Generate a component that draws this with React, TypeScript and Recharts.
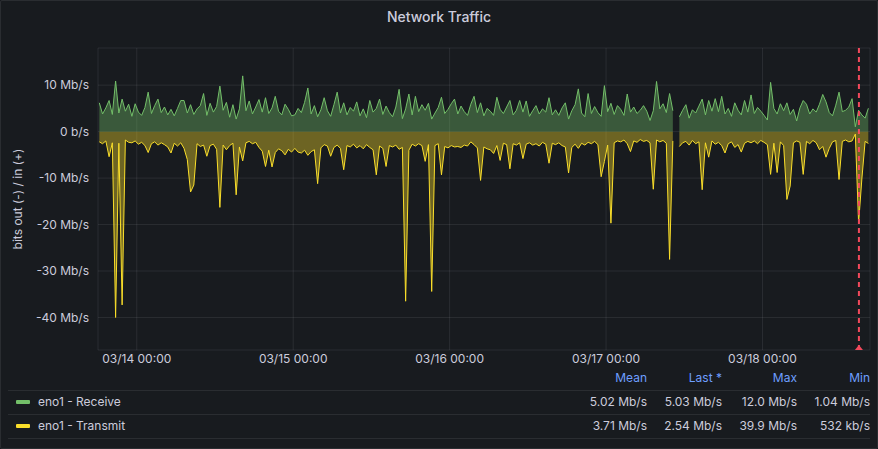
import React from 'react'
import {
  ComposedChart,
  Area,
  XAxis,
  YAxis,
  CartesianGrid,
  ReferenceLine
} from 'recharts'

// samples every 30 min, first one at 03/13 18:15 (hours relative to 03/14 00:00)
const START_HOUR = -5.75
const STEP_HOURS = 0.5

// eno1 - Receive, Mb/s
const receive = [
  6.2, 3.8, 5.1, 6.7, 3.7, 10.9, 4.0, 7.0, 4.4, 5.9,
  3.3, 6.0, 4.2, 3.5, 5.2, 8.5, 3.9, 5.6, 7.0, 4.1,
  5.3, 3.6, 4.8, 3.4, 5.0, 6.7, 6.7, 4.0, 5.8, 3.7,
  4.9, 5.6, 8.2, 3.5, 6.1, 4.2, 5.4, 9.8, 4.6, 6.3,
  3.1, 5.8, 2.7, 4.9, 12.0, 4.5, 6.6, 3.8, 5.3, 6.9,
  4.2, 7.3, 3.9, 5.1, 7.6, 4.4, 3.6, 5.9, 4.8, 3.4,
  3.6, 5.0, 4.1, 6.3, 9.4, 3.8, 5.6, 3.2, 4.7, 7.3,
  4.5, 3.3, 5.8, 8.5, 4.0, 6.2, 3.6, 5.2, 4.4, 6.4,
  3.4, 4.9, 3.0, 6.7, 4.2, 5.0, 7.0, 3.7, 5.5, 4.1,
  3.2, 5.3, 9.1, 2.8, 4.9, 8.1, 3.6, 7.6, 4.3, 5.8,
  4.6, 6.1, 2.7, 4.0, 5.2, 7.4, 3.9, 4.8, 6.0, 7.0,
  3.8, 5.5, 4.3, 3.5, 5.9, 7.6, 4.1, 6.2, 3.4, 5.0,
  4.4, 3.5, 7.4, 4.8, 3.9, 5.3, 6.7, 3.6, 4.6, 6.7,
  4.2, 6.6, 3.3, 4.5, 5.6, 3.8, 4.9, 4.2, 7.3, 3.6,
  4.7, 3.5, 5.1, 6.2, 2.7, 4.5, 5.8, 9.2, 4.0, 3.2,
  8.2, 3.9, 5.4, 4.1, 3.3, 9.9, 4.3, 6.1, 3.7, 5.6,
  4.8, 3.5, 8.1, 4.2, 5.3, 3.9, 4.6, 5.6, 4.4, 2.4,
  4.5, 10.8, 4.9, 6.0, 4.1, 8.2, 4.5, null, 3.2, 4.6,
  5.8, 2.9, 4.7, 4.0, 5.5, 7.0, 3.6, 6.7, 4.4, 7.1,
  4.3, 7.6, 3.8, 5.0, 3.3, 6.2, 4.6, 3.6, 6.7, 4.2,
  7.9, 3.9, 5.2, 4.4, 3.5, 2.5, 10.6, 5.0, 3.8, 6.0,
  4.5, 6.2, 3.7, 4.8, 2.3, 5.1, 6.7, 5.9, 3.8, 4.9,
  4.2, 5.9, 8.0, 6.4, 4.1, 3.4, 5.7, 8.5, 4.3, 4.6,
  5.3, 7.1, 1.04, 4.6, 3.6, 2.9, 5.03
]

// eno1 - Transmit, Mb/s (drawn negative: bits out)
const transmit = [
  -2.2, -2.6, -2.0, -5.4, -2.4, -40.0, -2.5, -37.3, -1.8, -2.3,
  -2.4, -2.0, -2.7, -2.3, -3.0, -4.5, -2.6, -2.2, -2.9, -2.4,
  -2.8, -3.3, -4.6, -2.5, -3.1, -2.4, -3.6, -6.0, -13.0, -11.5,
  -2.6, -3.2, -2.9, -5.3, -3.0, -2.7, -3.8, -16.3, -2.9, -3.9,
  -3.0, -2.5, -13.6, -3.3, -6.3, -2.4, -2.1, -2.6, -2.3, -3.4,
  -4.2, -7.5, -4.0, -7.6, -4.5, -3.7, -4.1, -5.0, -3.8, -4.4,
  -3.6, -4.4, -4.6, -4.0, -5.1, -4.3, -3.9, -11.2, -3.5, -2.8,
  -3.1, -5.3, -3.4, -2.9, -3.6, -8.2, -3.0, -3.3, -2.7, -3.5,
  -3.0, -3.7, -2.8, -3.4, -3.9, -9.3, -3.1, -3.6, -7.5, -3.0,
  -3.3, -2.9, -3.8, -3.4, -36.5, -4.0, -2.7, -3.1, -2.6, -3.0,
  -6.4, -2.8, -34.4, -3.0, -2.6, -9.3, -3.2, -3.5, -3.0, -3.3,
  -3.2, -3.4, -2.9, -3.1, -2.2, -2.8, -3.5, -10.5, -3.3, -3.7,
  -3.9, -4.7, -3.0, -6.2, -2.5, -2.8, -8.0, -2.6, -2.9, -2.4,
  -5.8, -2.7, -2.4, -2.9, -2.6, -3.1, -2.3, -2.7, -6.8, -2.5,
  -2.8, -2.4, -3.0, -3.3, -8.9, -3.4, -2.7, -3.6, -2.5, -2.9,
  -2.3, -2.6, -2.1, -2.8, -9.7, -6.4, -2.9, -19.7, -2.4, -2.0,
  -2.2, -1.8, -2.6, -4.3, -2.0, -2.3, -1.7, -2.1, -1.9, -2.4,
  -12.4, -1.8, -2.2, -1.9, -2.5, -27.5, -2.0, null, -3.2, -2.4,
  -2.1, -2.9, -1.9, -2.6, -2.2, -12.5, -2.4, -5.5, -2.0, -2.7,
  -2.3, -3.0, -4.6, -2.6, -2.2, -3.4, -2.8, -4.4, -2.5, -2.1,
  -2.4, -2.0, -2.6, -1.9, -2.3, -2.8, -9.2, -2.5, -8.8, -2.2,
  -3.0, -14.6, -11.7, -2.4, -2.0, -2.3, -9.2, -2.1, -2.6, -1.9,
  -2.4, -3.9, -3.2, -5.5, -3.6, -2.2, -1.9, -10.3, -2.1, -1.8,
  -2.2, -2.0, -0.53, -19.7, -10.2, -2.1, -2.54
]

const dayTicks = [0, 24, 48, 72, 96]
const dayLabels = ['03/14 00:00', '03/15 00:00', '03/16 00:00', '03/17 00:00', '03/18 00:00']
const yTicks = [-40, -30, -20, -10, 0, 10]
const annotationHour = 110.8

const statHeaders = ['Mean', 'Last *', 'Max', 'Min']
const receiveStats = ['5.02 Mb/s', '5.03 Mb/s', '12.0 Mb/s', '1.04 Mb/s']
const transmitStats = ['3.71 Mb/s', '2.54 Mb/s', '39.9 Mb/s', '532 kb/s']

const GREEN = '#73bf69'
const YELLOW = '#fade2a'
const RED = '#f2495c'
const TEXT = '#ccccdc'
const BLUE = '#6e9fff'

const data = receive.map((rx, i) => ({
  t: START_HOUR + i * STEP_HOURS,
  rx,
  tx: transmit[i]
}))

const formatY = (v: number) => (v === 0 ? '0 b/s' : `${v} Mb/s`)
const formatX = (v: number) => dayLabels[dayTicks.indexOf(v)] ?? ''

function AnnotationMarker(props: any) {
  const vb = props.viewBox || {}
  const x = vb.x
  const y = vb.y + vb.height
  return <path d={`M${x - 4},${y} L${x + 4},${y} L${x},${y - 5} Z`} fill={RED} />
}

// right edges of the legend stat columns
const statCols = [647, 722, 797, 870]

function LegendRow({ color, name, stats, top }: { color: string; name: string; stats: string[]; top: number }) {
  return (
    <div style={{ position: 'absolute', left: 0, top, width: 878, height: 24 }}>
      <div style={{ position: 'absolute', left: 16, top: 10, width: 14, height: 4, borderRadius: 1, background: color }} />
      <div style={{ position: 'absolute', left: 38, top: 4, fontSize: 12, color: TEXT }}>{name}</div>
      {stats.map((s, i) => (
        <div key={i} style={{ position: 'absolute', right: 878 - statCols[i], top: 4, fontSize: 12, color: TEXT, whiteSpace: 'nowrap' }}>
          {s}
        </div>
      ))}
    </div>
  )
}

export default function App() {
  return (
    <div style={{ position: 'absolute', left: 0, top: 0, width: 878, height: 449, background: '#181b1f', fontFamily: 'Inter, "Noto Sans", sans-serif', overflow: 'hidden' }}>
      <div
        style={{
          position: 'absolute',
          inset: 0,
          border: '1px solid rgba(204,204,220,0.1)',
          borderRadius: 2,
          pointerEvents: 'none'
        }}
      />
      <div style={{ position: 'absolute', left: 0, top: 8, width: 878, textAlign: 'center', fontSize: 14, fontWeight: 500, color: TEXT }}>
        Network Traffic
      </div>
      <div
        style={{
          position: 'absolute',
          left: 17,
          top: 199,
          transform: 'translate(-50%, -50%) rotate(-90deg)',
          whiteSpace: 'nowrap',
          fontSize: 12,
          color: TEXT
        }}
      >
        bits out (-) / in (+)
      </div>
      <div style={{ position: 'absolute', left: 0, top: 0 }}>
        <ComposedChart width={878} height={374} data={data} margin={{ top: 48, right: 8, bottom: 0, left: 0 }}>
          <CartesianGrid stroke="rgba(204,204,220,0.1)" />
          <XAxis
            dataKey="t"
            type="number"
            domain={[-5.95, 112.5]}
            ticks={dayTicks}
            tickFormatter={formatX}
            allowDataOverflow
            axisLine={false}
            tickLine={false}
            tickSize={0}
            tickMargin={4}
            height={24}
            tick={{ fill: TEXT, fontSize: 12 }}
          />
          <YAxis
            type="number"
            domain={[-47, 18]}
            ticks={yTicks}
            tickFormatter={formatY}
            allowDataOverflow
            axisLine={false}
            tickLine={false}
            tickSize={0}
            tickMargin={9}
            width={98}
            tick={{ fill: TEXT, fontSize: 12 }}
          />
          <Area
            type="linear"
            dataKey="rx"
            stroke={GREEN}
            strokeWidth={1}
            fill={GREEN}
            fillOpacity={0.38}
            baseValue={0}
            isAnimationActive={false}
            dot={false}
            activeDot={false}
          />
          <Area
            type="linear"
            dataKey="tx"
            stroke={YELLOW}
            strokeWidth={1}
            fill={YELLOW}
            fillOpacity={0.38}
            baseValue={0}
            isAnimationActive={false}
            dot={false}
            activeDot={false}
          />
          <ReferenceLine
            x={annotationHour}
            stroke={RED}
            strokeWidth={2}
            strokeDasharray="5 4"
            label={AnnotationMarker}
          />
        </ComposedChart>
      </div>
      <div style={{ position: 'absolute', left: 0, top: 370, width: 878, height: 16 }}>
        {statHeaders.map((h, i) => (
          <div key={h} style={{ position: 'absolute', right: 878 - statCols[i], top: 0, fontSize: 12, color: BLUE, whiteSpace: 'nowrap' }}>
            {h}
          </div>
        ))}
      </div>
      {[390, 414, 438].map((y) => (
        <div key={y} style={{ position: 'absolute', left: 8, top: y, width: 862, height: 1, background: 'rgba(204,204,220,0.1)' }} />
      ))}
      <LegendRow color={GREEN} name="eno1 - Receive" stats={receiveStats} top={390} />
      <LegendRow color={YELLOW} name="eno1 - Transmit" stats={transmitStats} top={414} />
    </div>
  )
}
